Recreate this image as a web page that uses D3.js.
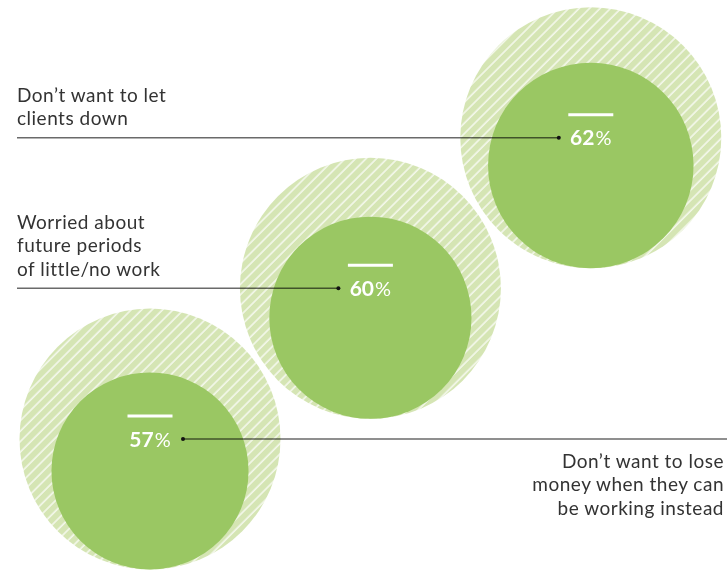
<!DOCTYPE html>
<html>
<head>
<meta charset="utf-8">
<script src="https://cdn.jsdelivr.net/npm/d3@7/dist/d3.min.js"></script>
<style>
  html, body { margin: 0; padding: 0; background: #ffffff; }
  svg { display: block; }
</style>
</head>
<body>
<svg id="chart" width="727" height="571"></svg>
<script>
// Reasons for working while ill / on holiday — share of respondents
const categories = ["clients", "future", "money"];
const labelLines = [
  ["Don’t want to let", "clients down"],
  ["Worried about", "future periods", "of little/no work"],
  ["Don’t want to lose", "money when they can", "be working instead"]
];
const values = [62, 60, 57];
const maxValue = 100;

const W = 727, H = 571;
const svg = d3.select("#chart");

const green = "#9ac763";
const paleGreen = "#d5e5b4";
const ink = "#333333";

// Hatched fill for the 100% reference circles
const defs = svg.append("defs");
const pat = defs.append("pattern")
  .attr("id", "hatch")
  .attr("patternUnits", "userSpaceOnUse")
  .attr("width", 7.4)
  .attr("height", 7.4)
  .attr("patternTransform", "rotate(45)");
pat.append("rect").attr("width", 7.4).attr("height", 7.4).attr("fill", paleGreen);
pat.append("line")
  .attr("x1", 1).attr("y1", 0).attr("x2", 1).attr("y2", 7.4)
  .attr("stroke", "#ffffff").attr("stroke-width", 1.2);

// Circles step diagonally from top-right down to bottom-left
const x = d3.scalePoint().domain(categories).range([590.8, 150]);
const y = d3.scalePoint().domain(categories).range([137.7, 439]);
const r = d3.scaleSqrt().domain([0, maxValue]).range([0, 130.5]);

const rows = categories.map((c, i) => ({ key: c, value: values[i], lines: labelLines[i], i }));
const last = categories.length - 1;

const groups = svg.append("g").selectAll("g")
  .data(rows)
  .join("g");

// Outer circle = 100%
groups.append("circle")
  .attr("cx", d => x(d.key))
  .attr("cy", d => y(d.key))
  .attr("r", r(maxValue))
  .attr("fill", "url(#hatch)");

// Inner circle sized by area, resting on the bottom of the outer circle
groups.append("circle")
  .attr("cx", d => x(d.key))
  .attr("cy", d => y(d.key) + r(maxValue) - r(d.value))
  .attr("r", d => r(d.value))
  .attr("fill", green);

// Short white rule above each figure
groups.append("line")
  .attr("x1", d => x(d.key) - 22.5)
  .attr("x2", d => x(d.key) + 22.5)
  .attr("y1", d => y(d.key) - 23)
  .attr("y2", d => y(d.key) - 23)
  .attr("stroke", "#ffffff")
  .attr("stroke-width", 3);

// Percentage figure
const pct = groups.append("text")
  .attr("x", d => x(d.key))
  .attr("y", d => y(d.key) + 7.5)
  .attr("text-anchor", "middle")
  .attr("fill", "#ffffff")
  .attr("font-family", "Lato, 'Open Sans', sans-serif")
  .attr("font-size", 21);
pct.append("tspan").attr("font-weight", 700).text(d => d.value);
pct.append("tspan").attr("font-weight", 400).attr("font-size", 20).attr("dx", 1).text("%");

// Leader lines with end dots
const leaders = svg.append("g").style("mix-blend-mode", "multiply");
leaders.selectAll("line")
  .data(rows)
  .join("line")
  .attr("x1", d => d.i === last ? x(d.key) + 33 : 17)
  .attr("x2", d => d.i === last ? W : x(d.key) - 32)
  .attr("y1", d => y(d.key))
  .attr("y2", d => y(d.key))
  .attr("stroke", "#6a6a6a")
  .attr("stroke-width", 1.5);
svg.append("g").selectAll("circle")
  .data(rows)
  .join("circle")
  .attr("cx", d => d.i === last ? x(d.key) + 33 : x(d.key) - 32)
  .attr("cy", d => y(d.key))
  .attr("r", 2)
  .attr("fill", "#111111");

// Category labels: above the leader on the left, below it on the right
const labels = svg.append("g").selectAll("text")
  .data(rows)
  .join("text")
  .attr("fill", ink)
  .attr("font-family", "Lato, 'Open Sans', sans-serif")
  .attr("font-size", 19)
  .attr("letter-spacing", 0.5)
  .attr("text-anchor", d => d.i === last ? "end" : "start");

labels.selectAll("tspan")
  .data(d => d.lines.map((t, k) => ({ t, k, d })))
  .join("tspan")
  .attr("x", o => o.d.i === last ? 724 : 17)
  .attr("y", o => o.d.i === last
    ? y(o.d.key) + 28.5 + o.k * 23.6
    : y(o.d.key) - 12.5 - (o.d.lines.length - 1 - o.k) * 23.6)
  .text(o => o.t);
</script>
</body>
</html>
